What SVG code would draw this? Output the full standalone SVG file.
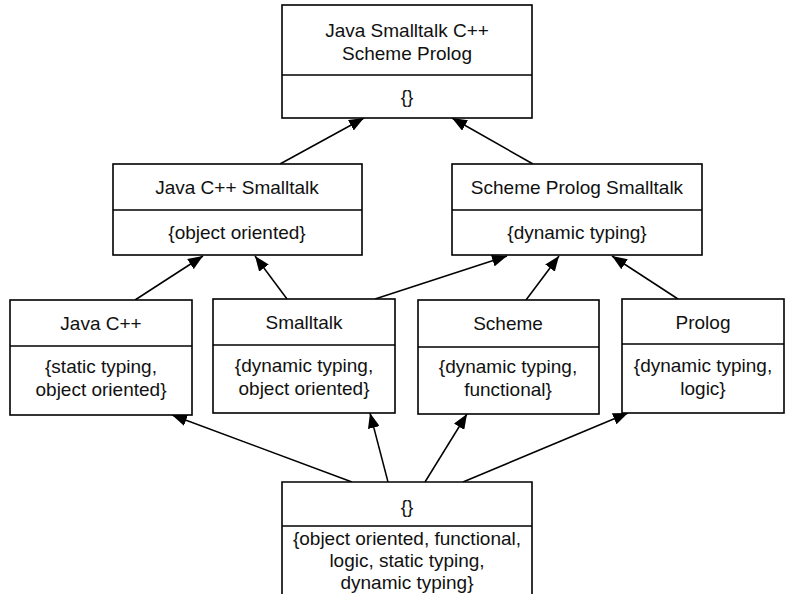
<svg xmlns="http://www.w3.org/2000/svg" width="794" height="594" viewBox="0 0 794 594">
<style>
.box{fill:#fff;stroke:#000;stroke-width:1.6}
.div{stroke:#000;stroke-width:1.6}
.t{font-family:"Liberation Sans",Arial,sans-serif;font-size:19px;fill:#111;text-anchor:middle}
.e{stroke:#000;stroke-width:1.5;fill:none;marker-end:url(#ah)}
</style>
<defs>
<marker id="ah" markerUnits="userSpaceOnUse" markerWidth="16" markerHeight="12" refX="15" refY="6" orient="auto">
<path d="M0,0 L15,6 L0,12 z" fill="#000"/>
</marker>
</defs>
<rect width="794" height="594" fill="#fff"/>
<g id="connectors">
<line class="e" x1="280" y1="164" x2="364" y2="118"/>
<line class="e" x1="533" y1="164" x2="452" y2="118"/>
<line class="e" x1="135" y1="300" x2="203" y2="256"/>
<line class="e" x1="287" y1="299" x2="255" y2="256"/>
<line class="e" x1="375" y1="299" x2="507" y2="256"/>
<line class="e" x1="526" y1="300" x2="559" y2="256"/>
<line class="e" x1="678" y1="299" x2="612" y2="256"/>
<line class="e" x1="352" y1="482" x2="172" y2="415"/>
<line class="e" x1="388" y1="482" x2="370" y2="413"/>
<line class="e" x1="425" y1="482" x2="467" y2="414"/>
<line class="e" x1="463" y1="482" x2="628" y2="413"/>
</g>
<g id="top">
<rect class="box" x="282" y="5" width="250" height="113"/>
<line class="div" x1="282" y1="75" x2="532" y2="75"/>
<text class="t" x="407" y="37">Java Smalltalk C++</text>
<text class="t" x="407" y="60">Scheme Prolog</text>
<text class="t" x="407" y="103">{}</text>
</g>
<g id="oo">
<rect class="box" x="113" y="164" width="249" height="91"/>
<line class="div" x1="113" y1="210" x2="362" y2="210"/>
<text class="t" x="237" y="194">Java C++ Smalltalk</text>
<text class="t" x="237" y="239">{object oriented}</text>
</g>
<g id="dyn">
<rect class="box" x="452" y="164" width="250" height="91"/>
<line class="div" x1="452" y1="210" x2="702" y2="210"/>
<text class="t" x="577" y="194">Scheme Prolog Smalltalk</text>
<text class="t" x="577" y="239">{dynamic typing}</text>
</g>
<g id="javacpp">
<rect class="box" x="10" y="300" width="182" height="115"/>
<line class="div" x1="10" y1="346" x2="192" y2="346"/>
<text class="t" x="101" y="330">Java C++</text>
<text class="t" x="101" y="373">{static typing,</text>
<text class="t" x="101" y="396">object oriented}</text>
</g>
<g id="smalltalk">
<rect class="box" x="213" y="299" width="182" height="114"/>
<line class="div" x1="213" y1="345" x2="395" y2="345"/>
<text class="t" x="304" y="329">Smalltalk</text>
<text class="t" x="304" y="372">{dynamic typing,</text>
<text class="t" x="304" y="395">object oriented}</text>
</g>
<g id="scheme">
<rect class="box" x="418" y="300" width="181" height="114"/>
<line class="div" x1="418" y1="347" x2="599" y2="347"/>
<text class="t" x="508" y="330">Scheme</text>
<text class="t" x="508" y="373">{dynamic typing,</text>
<text class="t" x="508" y="396">functional}</text>
</g>
<g id="prolog">
<rect class="box" x="622" y="299" width="162" height="114"/>
<line class="div" x1="622" y1="344" x2="784" y2="344"/>
<text class="t" x="703" y="329">Prolog</text>
<text class="t" x="703" y="372">{dynamic typing,</text>
<text class="t" x="703" y="395">logic}</text>
</g>
<g id="bottom">
<path class="box" d="M282,600 L282,482 L532,482 L532,600"/>
<line class="div" x1="282" y1="526" x2="532" y2="526"/>
<text class="t" x="407" y="513">{}</text>
<text class="t" x="407" y="545">{object oriented, functional,</text>
<text class="t" x="407" y="567">logic, static typing,</text>
<text class="t" x="407" y="589">dynamic typing}</text>
</g>
</svg>
